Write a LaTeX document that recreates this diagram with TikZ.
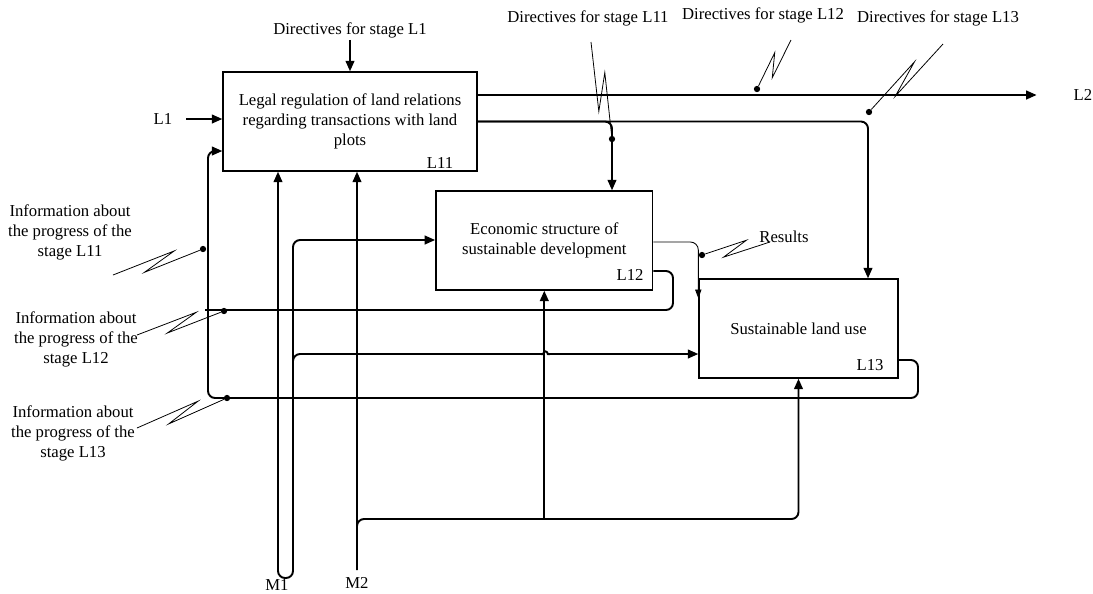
\documentclass[tikz,border=0pt]{standalone}
\usepackage{fontspec}
\setmainfont{Liberation Serif}
\usetikzlibrary{arrows.meta,calc}

\begin{document}
\begin{tikzpicture}[x=0.02cm,y=-0.02cm,
    font=\fontsize{9.5}{11.4}\selectfont,
    box/.style={draw,line width=0.8pt,minimum height=1.98cm,align=center,inner sep=2pt},
    lbl/.style={align=center,inner sep=1pt},
    link/.style={line width=1.1pt,rounded corners=4pt},
    arrow/.style={link,-{Triangle[length=6pt,width=5pt]}},
    thinarrow/.style={line width=0.5pt,rounded corners=4.5pt,-{Triangle[length=5pt,width=3.6pt]}},
    dot/.style={circle,fill,inner sep=0pt,minimum size=3.6pt},
    squig/.style={line width=0.45pt},
    zig/.style={to path={-- ($(\tikztostart)!0.7!(\tikztotarget)!#1!90:(\tikztotarget)$) -- ($(\tikztostart)!0.33!(\tikztotarget)!#1!-90:(\tikztotarget)$) -- (\tikztotarget)}},
    zig/.default=3.5pt
]
\useasboundingbox (0,0) rectangle (1093,593);

% Stages
\node[box,minimum width=5.08cm] (legal) at (350,121.5) {Legal regulation of land relations\\regarding transactions with land\\plots};
\node[box,minimum width=4.34cm] (econ) at (544.3,240.5) {Economic structure of\\sustainable development};
\node[box,minimum width=3.98cm] (landuse) at (798.5,328.5) {Sustainable land use};
\node (tag11) at (440,163) {L11};
\node (tag12) at (630,275) {L12};
\node (tag13) at (870,365) {L13};

% Inputs, controls and outputs
\node[lbl] (dirL1) at (350,30) {Directives for stage L1};
\draw[arrow] (dirL1.south) -- (legal.north);
\node[lbl] (inL1) at (163,119) {L1};
\draw[arrow] ($(inL1.east)+(12,0)$) -- (inL1 -| legal.west);
\node[lbl] (outL2) at (1083,95) {L2};
\draw[arrow] (legal.east |- outL2) -- ($(outL2.west)+(-35,0)$);

\coordinate (j11) at (612,121.5);
\coordinate (j13) at (868,121.5);
\draw[arrow] (legal.east) -- (j11) -- (j11 |- econ.north);
\draw[arrow] (legal.east) -- (j13) -- (j13 |- landuse.north);

\draw[thinarrow] (econ.east |- 0,242) -- (landuse.west |- 0,242) -- ($(landuse.north west)+(0,20)$);

% Feedback
\coordinate (fb12) at (205,310);
\draw[link] (econ.east |- 0,271) -- (673,271) -- (673,310) -- (fb12);
\draw[arrow] (landuse.east |- 0,360) -- (918,360) -- (918,398) -- (208,398) -- (208,151) -- (legal.west |- 0,151);

% Mechanisms
\node (m1) at (277,585) {M1};
\node (m2) at (357,583) {M2};
\coordinate (m1a) at (278,571);
\coordinate (m1b) at (293,571);
\coordinate (m2a) at (357,570);
\draw[arrow] (m1a) -- (m1a |- legal.south);
\draw[arrow] (m1a) -- (278,578) -- (293,578) -- (293,240) -- (econ.west |- 0,240);
\draw[arrow] (m1b) -- (293,354) -- (537,354) .. controls (543,354) .. (545.5,347.5) .. controls (548,354) .. (554,354) -- (landuse.west |- 0,354);
\draw[arrow] (m2a) -- (m2a |- legal.south);
\draw[arrow] (m2a) -- (357,519) -- (landuse.south |- 0,519) -- (landuse.south);
\draw[arrow] (econ.south |- 0,519) -- (econ.south);

% Call-outs
\node[lbl] (dirL11) at (588,18) {Directives for stage L11};
\node[lbl] (dirL12) at (763,15) {Directives for stage L12};
\node[lbl] (dirL13) at (938,18) {Directives for stage L13};
\node[lbl] (res) at (784,237) {Results};
\node[lbl] (info11) at (70,232) {Information about\\the progress of the\\stage L11};
\node[lbl] (info12) at (76,339) {Information about\\the progress of the\\stage L12};
\node[lbl] (info13) at (73,433) {Information about\\the progress of the\\stage L13};

\node[dot] (d11) at (612,139) {};
\node[dot] (d12) at (757,89) {};
\node[dot] (d13) at (869,112) {};
\node[dot] (dres) at (702,255) {};
\node[dot] (di11) at (203,249) {};
\node[dot] (di12) at (224,311) {};
\node[dot] (di13) at (227,398) {};

\coordinate (s11) at (591,42);
\coordinate (s12) at (791,40);
\coordinate (s13) at (943,44);
\coordinate (sres) at (770,242);
\coordinate (si11) at (113,275);
\coordinate (si12) at (137,335);
\coordinate (si13) at (137,428);

\draw[squig] (s11) to[zig=-4pt] (d11);
\draw[squig] (s12) to[zig] (d12);
\draw[squig] (s13) to[zig] (d13);
\draw[squig] (sres) to[zig] (dres);
\draw[squig] (si11) to[zig] (di11);
\draw[squig] (si12) to[zig] (di12);
\draw[squig] (si13) to[zig] (di13);
\end{tikzpicture}
\end{document}
